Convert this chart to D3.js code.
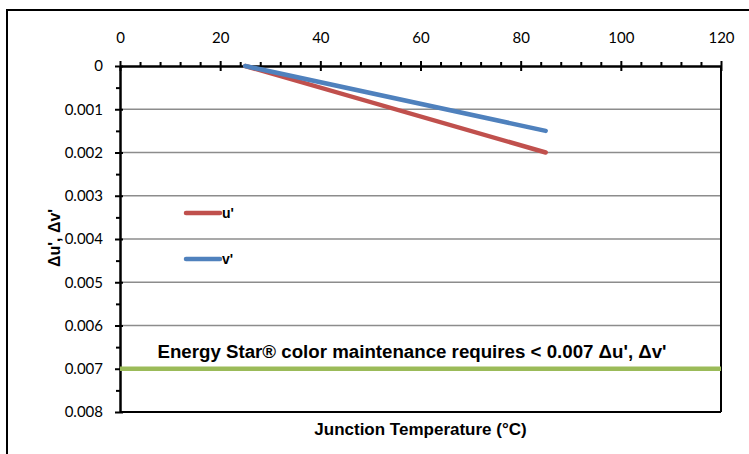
<!DOCTYPE html>
<html>
<head>
<meta charset="utf-8">
<script src="https://cdn.jsdelivr.net/npm/d3@7"></script>
<style>
  body { margin: 0; background: #fff; }
  svg { display: block; }
  .tick text { font-family: Lato, "Open Sans", sans-serif; font-size: 15px; fill: #000; }
  .bold { font-family: "Liberation Sans", Arial, sans-serif; font-weight: bold; fill: #000; }
</style>
</head>
<body>
<svg width="749" height="454"></svg>
<script>
// data
const tempC = [25, 85];
const duPrime = [0, 0.002];
const dvPrime = [0, 0.0015];
const seriesNames = ["u'", "v'"];
const seriesColors = ["#C0504D", "#4F81BD"];
const limitValue = 0.007;
const xTicks = [0, 20, 40, 60, 80, 100, 120];
const yTicks = [0, 0.001, 0.002, 0.003, 0.004, 0.005, 0.006, 0.007, 0.008];

const svg = d3.select('svg');
const margin = { top: 66, right: 28, bottom: 42, left: 120 };
const width = 749 - margin.left - margin.right;
const height = 454 - margin.top - margin.bottom;

// outer chart border
svg.append('rect')
  .attr('x', 7).attr('y', 10)
  .attr('width', 780).attr('height', 480)
  .attr('fill', 'none').attr('stroke', '#000').attr('stroke-width', 2);

const g = svg.append('g').attr('transform', 'translate(' + margin.left + ',' + margin.top + ')');

const x = d3.scaleLinear().domain([0, 120]).range([0, width]);
const y = d3.scaleLinear().domain([0, 0.008]).range([0, height]);

// gridlines
g.selectAll('.grid')
  .data(yTicks.slice(1, -1))
  .enter().append('line')
    .attr('x1', 0).attr('x2', width)
    .attr('y1', d => y(d)).attr('y2', d => y(d))
    .attr('stroke', '#8c8c8c').attr('stroke-width', 1.5);

// right and bottom frame
g.append('line').attr('x1', width).attr('x2', width).attr('y1', 0).attr('y2', height)
  .attr('stroke', '#000').attr('stroke-width', 2);
g.append('line').attr('x1', 0).attr('x2', width).attr('y1', height).attr('y2', height)
  .attr('stroke', '#000').attr('stroke-width', 2);

// x axis on top: minor ticks then major
const xMinor = d3.range(0, 121, 4).filter(v => v % 20 !== 0);
g.append('g')
  .call(d3.axisTop(x).tickValues(xMinor).tickSize(4).tickFormat(''))
  .call(a => a.select('.domain').remove())
  .selectAll('line').attr('stroke-width', 2);
const xAxis = g.append('g')
  .call(d3.axisTop(x).tickValues(xTicks).tickSize(5).tickPadding(18).tickSizeOuter(0));
xAxis.select('.domain').attr('stroke-width', 2.5);
xAxis.selectAll('.tick line').attr('stroke-width', 2).attr('y2', -5).attr('y1', 5);

// y axis on left
const yMinor = d3.range(0.0005, 0.008, 0.001);
g.append('g')
  .call(d3.axisLeft(y).tickValues(yMinor).tickSize(4).tickFormat(''))
  .call(a => a.select('.domain').remove())
  .selectAll('line').attr('stroke-width', 2);
const yAxis = g.append('g')
  .call(d3.axisLeft(y).tickValues(yTicks).tickSize(5).tickPadding(12).tickSizeOuter(0)
    .tickFormat(d => d === 0 ? '0' : d3.format('.3f')(d)));
yAxis.select('.domain').attr('stroke-width', 2.5);
yAxis.selectAll('.tick line').attr('stroke-width', 2).attr('x1', 3);

// limit line
g.append('line')
  .attr('x1', x(0)).attr('x2', x(120))
  .attr('y1', y(limitValue)).attr('y2', y(limitValue))
  .attr('stroke', '#9BBB59').attr('stroke-width', 4.5);

g.append('text')
  .attr('class', 'bold')
  .attr('x', 292).attr('y', y(limitValue) - 11)
  .attr('text-anchor', 'middle')
  .style('font-size', '18.7px')
  .text("Energy Star\u00AE color maintenance requires < 0.007 \u0394u', \u0394v'");

// series
const series = [duPrime, dvPrime];
const line = d3.line().x(d => x(d[0])).y(d => y(d[1]));
series.forEach((vals, i) => {
  g.append('path')
    .datum(tempC.map((t, j) => [t, vals[j]]))
    .attr('d', line)
    .attr('fill', 'none')
    .attr('stroke', seriesColors[i])
    .attr('stroke-width', 4.5)
    .attr('stroke-linecap', 'round');
});

// legend
const legend = svg.append('g');
seriesNames.forEach((name, i) => {
  const ly = 213 + i * 46;
  legend.append('line')
    .attr('x1', 186).attr('x2', 220).attr('y1', ly).attr('y2', ly)
    .attr('stroke', seriesColors[i]).attr('stroke-width', 4.5).attr('stroke-linecap', 'round');
  legend.append('text')
    .attr('class', 'bold')
    .attr('x', 222).attr('y', ly + 5)
    .style('font-size', '14px')
    .text(name);
});

// axis titles
svg.append('text')
  .attr('class', 'bold')
  .attr('transform', 'translate(60,238) rotate(-90)')
  .attr('text-anchor', 'middle')
  .style('font-size', '16px')
  .text("\u0394u', \u0394v'");

svg.append('text')
  .attr('class', 'bold')
  .attr('x', margin.left + width / 2).attr('y', 435)
  .attr('text-anchor', 'middle')
  .style('font-size', '17px')
  .text("Junction Temperature (\u00B0C)");
</script>
</body>
</html>
